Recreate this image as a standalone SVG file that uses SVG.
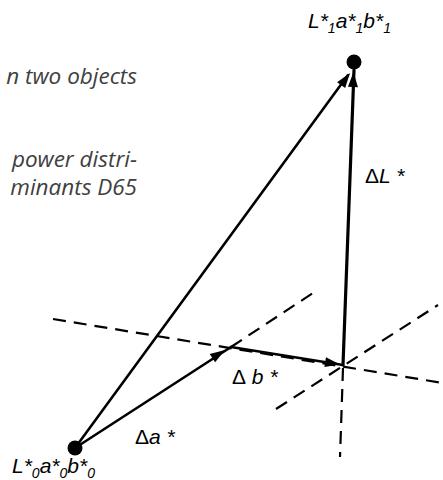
<svg xmlns="http://www.w3.org/2000/svg" xmlns:xlink="http://www.w3.org/1999/xlink" width="443" height="480" viewBox="0 0 443 480">
  <style>
    .bg { fill: #ffffff; }
    .side { font-family: "Open Sans", "DejaVu Sans", sans-serif; font-style: italic; font-size: 22.5px; fill: #404040; }
    .lbl { font-family: "Liberation Sans", Arial, sans-serif; font-style: italic; font-size: 21px; fill: #000; }
    .up { font-style: normal; }
    .sub { font-size: 14px; }
    .solid { stroke: #000; stroke-width: 2.6; fill: none; stroke-linecap: round; }
    .thick { stroke: #000; stroke-width: 3.2; fill: none; stroke-linecap: round; }
    .dash { stroke: #000; stroke-width: 2.2; fill: none; stroke-dasharray: 13 8; }
    .dot { fill: #000; }
  </style>
  <defs>
    <polygon id="ah" points="0,0 -15,-5 -15,5" fill="#000"/>
  </defs>
  <rect class="bg" x="0" y="0" width="443" height="480"/>

  <g id="side-text">
    <text class="side" x="137" y="84" text-anchor="end">n two objects</text>
    <text class="side" x="137" y="167" text-anchor="end">power distri-</text>
    <text class="side" x="137" y="195" text-anchor="end">minants D65</text>
  </g>

  <g id="connectors">
    <line class="dash" x1="53" y1="319" x2="443" y2="383"/>
    <line class="dash" x1="231" y1="347" x2="313" y2="293"/>
    <line class="dash" x1="276" y1="409" x2="438" y2="305"/>
    <line class="dash" x1="343" y1="368" x2="340" y2="457"/>
    <line class="solid" x1="75" y1="448" x2="348" y2="75"/>
    <line class="thick" x1="343" y1="365" x2="354" y2="70"/>
    <line class="solid" x1="75" y1="448" x2="231" y2="347"/>
    <line class="solid" x1="231" y1="347" x2="343" y2="365"/>
    <use xlink:href="#ah" transform="translate(225,350) rotate(-32.9)"/>
    <use xlink:href="#ah" transform="translate(340,364.5) rotate(9.1)"/>
    <use xlink:href="#ah" transform="translate(350,73) rotate(-53.8)"/>
    <use xlink:href="#ah" transform="translate(353.5,72) rotate(-87.9)"/>
  </g>

  <g id="node-p1">
    <circle class="dot" cx="354" cy="62" r="7.5"/>
    <text class="lbl" x="308" y="28">L*<tspan class="sub" dy="5">1</tspan><tspan dy="-5">a*</tspan><tspan class="sub" dy="5">1</tspan><tspan dy="-5">b*</tspan><tspan class="sub" dy="5">1</tspan></text>
  </g>

  <g id="node-p0">
    <circle class="dot" cx="75" cy="448" r="7.5"/>
    <text class="lbl" x="12" y="473">L*<tspan class="sub" dy="5">0</tspan><tspan dy="-5">a*</tspan><tspan class="sub" dy="5">0</tspan><tspan dy="-5">b*</tspan><tspan class="sub" dy="5">0</tspan></text>
  </g>

  <g id="label-dL">
    <text class="lbl" x="365" y="183"><tspan class="up">Δ</tspan>L *</text>
  </g>
  <g id="label-da">
    <text class="lbl" x="135" y="444"><tspan class="up">Δ</tspan>a *</text>
  </g>
  <g id="label-db">
    <text class="lbl" x="232" y="384"><tspan class="up">Δ</tspan> b *</text>
  </g>
</svg>
